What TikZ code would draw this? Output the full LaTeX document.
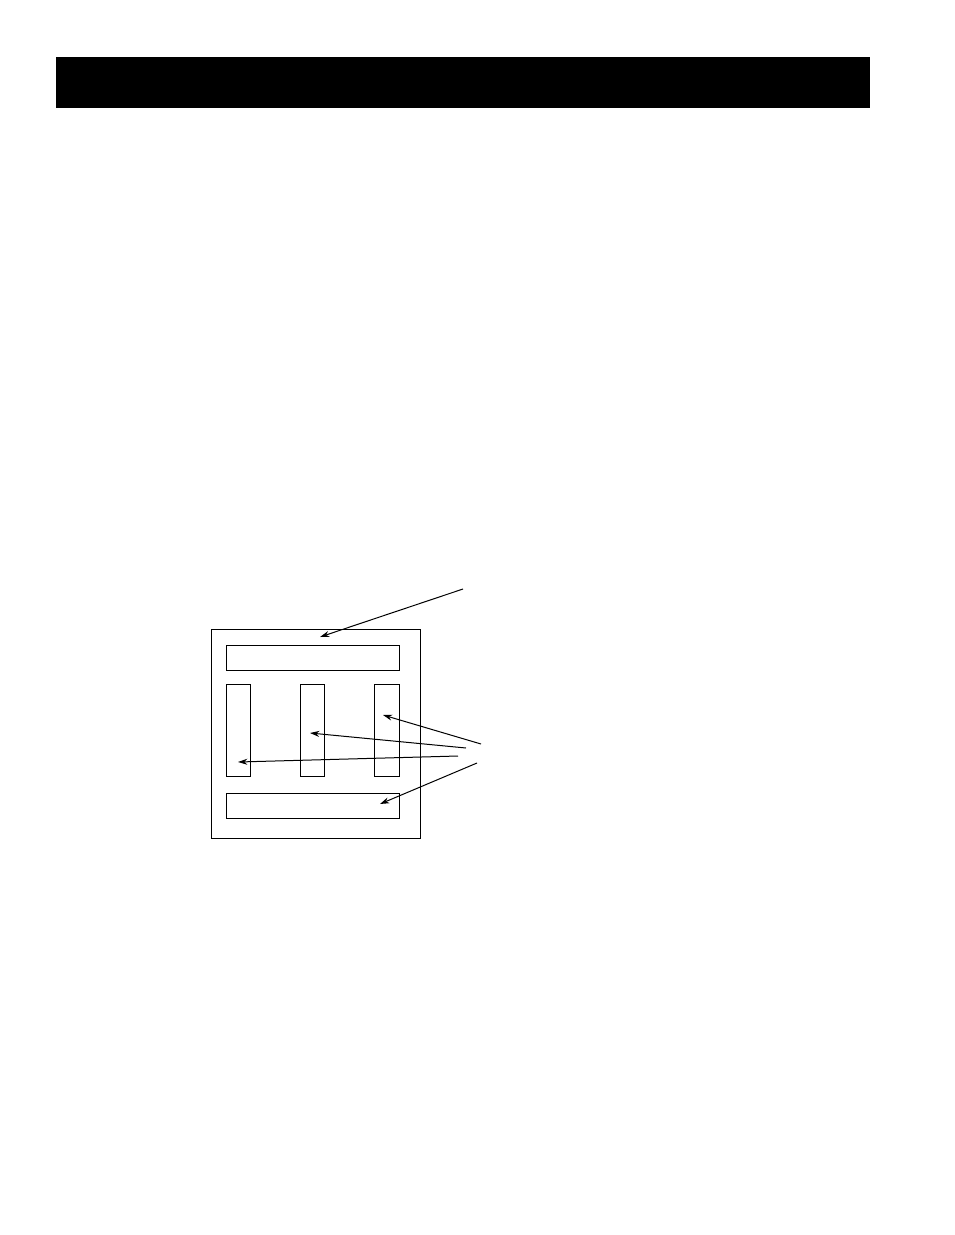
\documentclass[tikz,border=0pt]{standalone}
\usepackage{amsmath, amssymb}
\usetikzlibrary{arrows.meta}

\begin{document}
\begin{tikzpicture}[x=0.75pt,y=0.75pt,yscale=-1,xscale=1,
  panel/.style={draw, line width=0.75pt, inner sep=0pt, anchor=north west},
  pointer/.style={-{Stealth[length=7pt,width=4.5pt]}, line width=0.75pt}]
%set diagram left start at 0, and has height of 1235
\useasboundingbox (0,0) rectangle (954,1235);

%Shape: Rectangle [header bar]
\node [panel, fill=black, minimum width=609.75pt, minimum height=37.5pt] (header) at (56,57) {};

%Shape: Rectangle [outer frame]
\node [panel, minimum width=156.75pt, minimum height=156.75pt] (frame) at (211,629) {};
%Shape: Rectangle [top strip]
\node [panel, minimum width=129.75pt, minimum height=18.75pt] (topstrip) at (226,645) {};
%Shape: Rectangle [left slot]
\node [panel, minimum width=18pt, minimum height=69pt] (leftslot) at (226,684) {};
%Shape: Rectangle [middle slot]
\node [panel, minimum width=18pt, minimum height=69pt] (midslot) at (300,684) {};
%Shape: Rectangle [right slot]
\node [panel, minimum width=18.75pt, minimum height=69pt] (rightslot) at (374,684) {};
%Shape: Rectangle [bottom strip]
\node [panel, minimum width=129.75pt, minimum height=18.75pt] (botstrip) at (226,793) {};

% Callout ends
\coordinate (topcall) at (463,589);
\coordinate (slotcallA) at (481,744);
\coordinate (slotcallB) at (466,748);
\coordinate (slotcallC) at (458,756);
\coordinate (botcall) at (477,763);
% Arrow tips
\coordinate (toptip) at (320,637);
\coordinate (righttip) at (383,715);
\coordinate (midtip) at (310,733);
\coordinate (lefttip) at (238,762);
\coordinate (bottip) at (380,804);

%Straight Lines
\draw [pointer] (topcall) -- (toptip);
\draw [pointer] (slotcallA) -- (righttip);
\draw [pointer] (slotcallB) -- (midtip);
\draw [pointer] (slotcallC) -- (lefttip);
\draw [pointer] (botcall) -- (bottip);

\end{tikzpicture}
\end{document}
